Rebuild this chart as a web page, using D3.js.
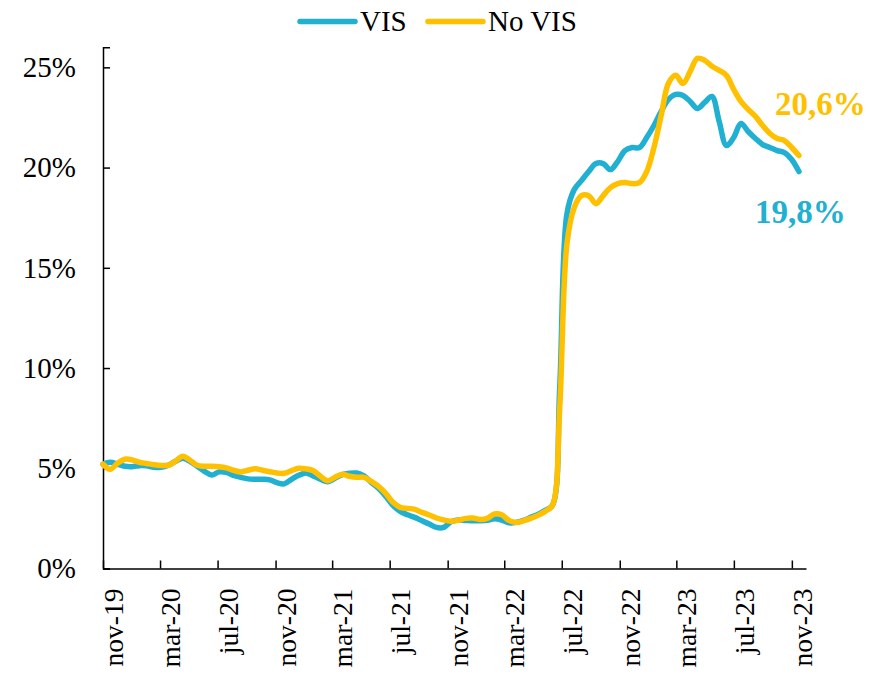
<!DOCTYPE html>
<html>
<head>
<meta charset="utf-8">
<script src="https://cdn.jsdelivr.net/npm/d3@7"></script>
<style>
    body { margin: 0; background: #fff; }
    svg { display: block; font-family: "Liberation Serif", serif; }
</style>
</head>
<body>
<script>
// half-month readings, nov-19 .. mid nov-23
const visValues = [
    5.2, 5.3, 5.2, 5.1, 5.08, 5.13, 5.12, 5.05, 5.05, 5.15,
    5.35, 5.5, 5.35, 5.1, 4.85, 4.66, 4.82, 4.8, 4.65, 4.55,
    4.47, 4.45, 4.45, 4.42, 4.28, 4.22, 4.45, 4.65, 4.77, 4.62,
    4.45, 4.33, 4.5, 4.68, 4.75, 4.76, 4.62, 4.3, 4.0, 3.6,
    3.15, 2.85, 2.68, 2.55, 2.38, 2.22, 2.05, 2.05, 2.33, 2.42,
    2.4, 2.38, 2.38, 2.4, 2.48, 2.42, 2.28, 2.3, 2.4, 2.55,
    2.7, 2.9, 3.15, 9.0, 17.7, 18.9, 19.35, 19.8, 20.2, 20.2,
    19.9, 20.3, 20.85, 21.0, 21.0, 21.5, 22.1, 22.8, 23.4, 23.65,
    23.6, 23.3, 22.95, 23.25, 23.55, 22.3, 21.1, 21.5, 22.2, 21.8,
    21.45, 21.15, 21.0, 20.85, 20.75, 20.4, 19.8
];
const noVisValues = [
    5.2, 4.95, 5.25, 5.45, 5.42, 5.3, 5.24, 5.18, 5.14, 5.15,
    5.35, 5.6, 5.4, 5.15, 5.1, 5.1, 5.08, 5.02, 4.9, 4.82,
    4.9, 4.97, 4.9, 4.83, 4.76, 4.75, 4.88, 5.0, 4.97, 4.88,
    4.6, 4.38, 4.55, 4.7, 4.6, 4.55, 4.55, 4.35, 4.1, 3.75,
    3.3, 3.05, 3.0, 2.95, 2.8, 2.67, 2.52, 2.42, 2.36, 2.4,
    2.5, 2.52, 2.45, 2.5, 2.72, 2.68, 2.4, 2.3, 2.38, 2.5,
    2.65, 2.85, 3.15, 8.0, 16.2, 18.0, 18.6, 18.6, 18.2, 18.6,
    19.0, 19.2, 19.25, 19.2, 19.25, 19.8, 21.0, 22.6, 24.2, 24.6,
    24.2, 24.8, 25.45, 25.35, 25.05, 24.85, 24.6, 23.9, 23.3, 22.9,
    22.55, 22.1, 21.7, 21.45, 21.35, 21.0, 20.6
];
const seriesNames = ["VIS", "No VIS"];
const monthNames = ["ene", "feb", "mar", "abr", "may", "jun", "jul", "ago", "sep", "oct", "nov", "dic"];
const yTicks = [0, 5, 10, 15, 20, 25];
const axisStart = new Date(2019, 10, 1), axisEnd = new Date(2023, 11, 1);
const seriesStart = new Date(2019, 10, 1), seriesEnd = new Date(2023, 10, 16);

function go() {
    const width = 873, height = 681;
    const blue = "#21b0d1", gold = "#ffc000";

    const svg = d3.select("body").append("svg")
        .attr("width", width)
        .attr("height", height);

    const x = d3.scaleTime().domain([axisStart, axisEnd]).range([103, 806]);
    const y = d3.scaleLinear().domain([0, 26]).range([568.5, 47.3]);
    const t = d3.scaleLinear().domain([0, visValues.length - 1]).range([seriesStart, seriesEnd]);

    const series = [
        {name: seriesNames[0], color: blue, values: visValues},
        {name: seriesNames[1], color: gold, values: noVisValues}
    ];

    // y axis
    const yAxis = svg.append("g")
        .attr("transform", "translate(103,0)")
        .call(d3.axisRight(y).tickValues(yTicks).tickSize(7).tickFormat(function(d) { return d + "%"; }));
    yAxis.select(".domain").attr("stroke", "#000").attr("stroke-width", 1.5);
    yAxis.selectAll(".tick line").attr("stroke", "#000").attr("stroke-width", 1.5);
    yAxis.selectAll(".tick text")
        .attr("x", -27)
        .attr("text-anchor", "end")
        .attr("fill", "#000")
        .style("font-family", "Liberation Serif, serif")
        .style("font-size", "29px");

    // x axis
    const xTicks = d3.timeMonths(axisStart, new Date(2023, 10, 2), 4);
    const xAxis = svg.append("g")
        .attr("transform", "translate(0,568.5)")
        .call(d3.axisTop(x).tickValues(xTicks).tickSize(8).tickSizeOuter(0)
            .tickFormat(function(d) { return monthNames[d.getMonth()] + "-" + d3.timeFormat("%y")(d); }));
    xAxis.select(".domain").attr("stroke", "#000").attr("stroke-width", 1.5);
    xAxis.selectAll(".tick line").attr("stroke", "#000").attr("stroke-width", 1.5);
    xAxis.selectAll(".tick text")
        .attr("transform", "translate(10,20) rotate(-90)")
        .attr("x", 0)
        .attr("y", 0)
        .attr("dy", "0.35em")
        .attr("text-anchor", "end")
        .attr("fill", "#000")
        .style("font-family", "Liberation Serif, serif")
        .style("font-size", "27.5px");

    const line = d3.line()
        .x(function(d, i) { return x(t(i)); })
        .y(function(d) { return y(d); })
        .curve(d3.curveCatmullRom.alpha(0.5));

    svg.append("g").selectAll("path")
        .data(series)
        .enter().append("path")
        .attr("d", function(d) { return line(d.values); })
        .attr("fill", "none")
        .attr("stroke", function(d) { return d.color; })
        .attr("stroke-width", 5.5)
        .attr("stroke-linejoin", "round")
        .attr("stroke-linecap", "round");

    // end labels
    const fmt = function(v) { return d3.format(".1f")(v).replace(".", ",") + "%"; };
    const labelOffsets = [[-44, 51], [-24, -41]];
    series.forEach(function(s, k) {
        const last = s.values.length - 1;
        svg.append("text")
            .attr("x", x(t(last)) + labelOffsets[k][0])
            .attr("y", y(s.values[last]) + labelOffsets[k][1])
            .attr("fill", s.color)
            .style("font-family", "Liberation Serif, serif")
            .style("font-weight", "bold")
            .style("font-size", "33px")
            .text(fmt(s.values[last]));
    });

    // legend
    const legendX = [300, 428];
    const legend = svg.append("g").selectAll("g")
        .data(series)
        .enter().append("g")
        .attr("transform", function(d, i) { return "translate(" + legendX[i] + ",21.5)"; });
    legend.append("line")
        .attr("x1", 0).attr("x2", 55)
        .attr("stroke", function(d) { return d.color; })
        .attr("stroke-width", 5.5)
        .attr("stroke-linecap", "round");
    legend.append("text")
        .attr("x", 60)
        .attr("y", 9)
        .style("font-size", "29px")
        .text(function(d) { return d.name; });
}

window.onload = function() {
    go();
}
</script>
</body>
</html>
